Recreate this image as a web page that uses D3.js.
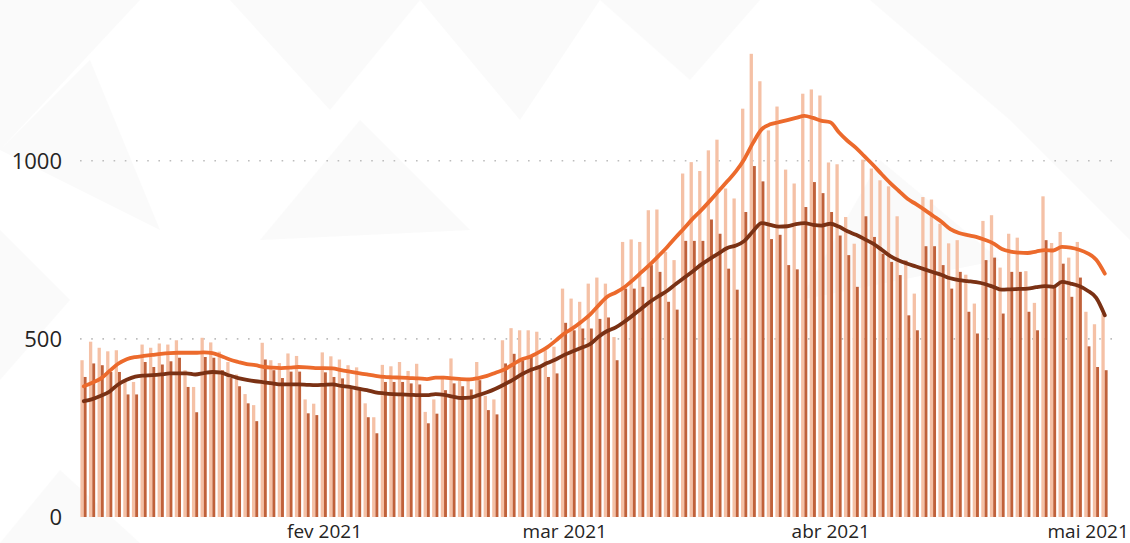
<!DOCTYPE html>
<html><head><meta charset="utf-8">
<script src="https://cdn.jsdelivr.net/npm/d3@7"></script>
<style>
html,body{margin:0;padding:0;background:#fff;}
svg{display:block;}
text{font-family:"Open Sans","Noto Sans",sans-serif;fill:#252423;}
</style></head>
<body>
<svg id="chart" width="1130" height="543"></svg>
<script>
// ---- data ----
const startDate = new Date(2021, 0, 4);   // first day shown (4 Jan 2021)
const dayCount = 120;                     // through 3 May 2021

// daily values, light series (total)
const lightValues = [
 440,492,475,465,468,379,379,484,475,487,484,496,412,365,503,490,464,435,400,345,
 314,489,440,432,459,452,330,318,462,451,442,426,420,319,280,427,423,435,410,430,
 295,330,396,445,382,382,435,340,330,496,530,524,524,520,468,478,641,613,604,655,
 672,655,505,772,779,772,861,863,744,721,964,996,971,1029,1059,922,894,1146,1300,1223,
 1085,1152,975,936,1188,1200,1183,995,990,842,767,1003,978,945,928,844,721,627,898,891,
 823,768,777,680,599,831,847,700,795,784,690,601,900,769,800,728,772,576,541,571
];
// daily values, dark series
const darkValues = [
 393,431,426,407,407,344,344,435,421,428,437,447,365,294,449,447,412,390,367,319,
 269,442,412,390,408,408,291,286,406,393,389,365,361,280,235,379,379,379,375,372,
 263,290,356,375,367,358,384,300,288,431,458,440,454,426,393,403,545,524,529,529,
 556,560,440,641,641,646,707,688,604,582,775,775,775,835,795,697,638,856,985,942,
 780,792,707,695,870,940,909,856,790,735,646,844,786,739,716,679,566,524,760,760,
 707,641,688,576,515,721,728,571,688,688,576,524,777,646,711,618,672,479,421,412
];
// 7-day average lines
const lightAvg = [
 367,377,389,410,430,443,449,452,455,458,460,461,461,461,462,460,452,442,435,429,
 426,421,419,418,419,421,420,418,418,417,412,408,404,400,396,393,392,391,390,389,
 387,391,391,389,387,386,390,396,405,414,428,442,450,462,476,495,515,530,548,568,
 594,618,630,645,665,687,709,733,758,785,811,838,862,888,915,942,970,1005,1050,1088,
 1102,1108,1114,1120,1126,1120,1112,1108,1080,1056,1036,1012,988,962,937,915,893,878,862,845,
 828,808,797,791,786,778,768,752,745,742,741,745,749,748,758,756,750,740,722,683
];
const darkAvg = [
 325,331,340,352,372,385,394,397,398,400,403,403,403,400,404,407,405,397,390,385,
 381,378,375,372,372,372,371,370,371,372,368,365,360,356,350,347,345,344,343,342,
 342,345,343,338,334,335,342,350,360,372,385,400,412,420,432,442,455,465,475,485,
 506,522,532,548,566,585,604,620,635,654,672,690,709,725,740,755,762,775,802,825,
 820,815,816,822,825,820,818,823,815,802,792,780,767,750,732,720,711,703,695,687,
 679,670,665,662,659,654,646,638,639,640,641,645,648,646,660,655,648,635,615,566
];

const yTicks = [0, 500, 1000];
const monthTicks = [new Date(2021,1,1), new Date(2021,2,1), new Date(2021,3,1), new Date(2021,4,1)];
const monthLabels = ["fev 2021", "mar 2021", "abr 2021", "mai 2021"];

// ---- chart ----
const W = 1130, H = 543;
const svg = d3.select("#chart");

// faint background pattern
const bg = svg.append("g");
bg.append("rect").attr("width", W).attr("height", H).attr("fill", "#ffffff");
const tris = [
 [[0,0],[140,0],[0,150]], [[0,150],[90,60],[160,230]], [[230,0],[420,0],[330,110]],
 [[420,0],[600,0],[520,120]], [[600,0],[760,0],[690,80]], [[870,0],[1130,0],[1010,120]],
 [[1010,120],[1130,0],[1130,240]], [[0,380],[70,300],[0,230]], [[0,543],[60,470],[140,543]],
 [[360,120],[470,230],[260,240]], [[880,160],[1000,260],[800,300]]
];
bg.selectAll("polygon").data(tris).join("polygon")
  .attr("points", d => d.map(p => p.join(",")).join(" "))
  .attr("fill", "#f5f5f5").attr("opacity", 0.5);

const days = d3.range(dayCount).map(i => d3.timeDay.offset(startDate, i));
// domain padded half a day each side so x(date) is the centre of that day
const x = d3.scaleTime()
  .domain([d3.timeHour.offset(startDate, -12), d3.timeHour.offset(startDate, (dayCount - 1) * 24 + 12)])
  .range([79.5, 1109.1]);
const y = d3.scaleLinear().domain([0, 1000]).range([517, 160.7]);

// gridlines
svg.append("g").selectAll("line").data(yTicks.filter(v => v > 0)).join("line")
  .attr("x1", 80).attr("x2", 1112)
  .attr("y1", d => y(d)).attr("y2", d => y(d))
  .attr("stroke", "#bdbdbd").attr("stroke-width", 1.6)
  .attr("stroke-dasharray", "1.6,9.6");

// bars
const barsG = svg.append("g");
const lightW = 3.3, darkW = 2.9;
barsG.selectAll("rect.light").data(days).join("rect").attr("class", "light")
  .attr("x", d => x(d) - 3.4)
  .attr("width", lightW)
  .attr("y", (d, i) => y(lightValues[i]))
  .attr("height", (d, i) => y(0) - y(lightValues[i]))
  .attr("fill", "#f5c1a6");
barsG.selectAll("rect.dark").data(days).join("rect").attr("class", "dark")
  .attr("x", d => x(d) - 0.1)
  .attr("width", darkW)
  .attr("y", (d, i) => y(darkValues[i]))
  .attr("height", (d, i) => y(0) - y(darkValues[i]))
  .attr("fill", "#c0613a");

// lines
const line = d3.line().x((d, i) => x(days[i])).y(d => y(d)).curve(d3.curveMonotoneX);
svg.append("path").datum(darkAvg).attr("d", line)
  .attr("fill", "none").attr("stroke", "#7a3114").attr("stroke-width", 3.8)
  .attr("stroke-linejoin", "round").attr("stroke-linecap", "round");
svg.append("path").datum(lightAvg).attr("d", line)
  .attr("fill", "none").attr("stroke", "#ec6a2c").attr("stroke-width", 3.8)
  .attr("stroke-linejoin", "round").attr("stroke-linecap", "round");

// axes
const yAxis = d3.axisLeft(y).tickValues(yTicks).tickSize(0).tickPadding(0).tickFormat(d3.format("d"));
const yg = svg.append("g").attr("transform", "translate(62,0)").call(yAxis);
yg.select(".domain").remove();
yg.selectAll("text").style("font-size", "22px").attr("fill", "#252423").attr("dy", "0.34em");

const xAxis = d3.axisBottom(x).tickValues(monthTicks).tickSize(0).tickPadding(0)
  .tickFormat((d, i) => monthLabels[i]);
const xg = svg.append("g").attr("transform", "translate(0,524)").call(xAxis);
xg.select(".domain").remove();
xg.selectAll("text").style("font-size", "19px").attr("fill", "#252423").attr("dy", "0.72em");
</script>
</body></html>
